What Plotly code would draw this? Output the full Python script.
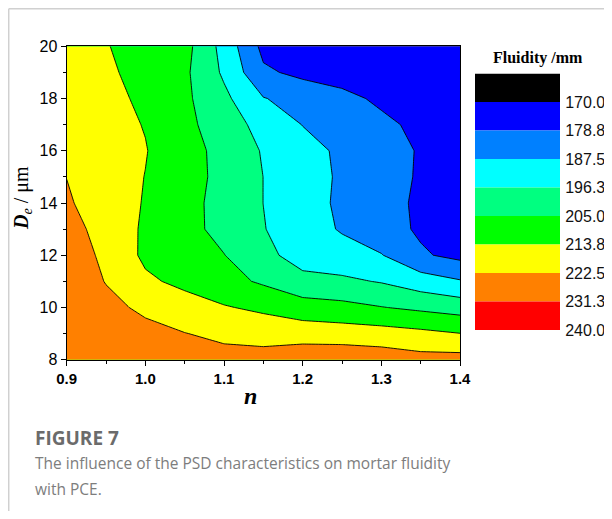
import plotly.graph_objects as go

# ---- data ----
n_values = [0.90, 0.95, 1.00, 1.05, 1.10, 1.15, 1.20, 1.25, 1.30, 1.35, 1.40]
de_values = [8, 9, 10, 11, 12, 13, 14, 15, 16, 17, 18, 19, 20]
fluidity = [
    [229.5, 227.5, 225.5, 224.0, 225.3, 225.5, 228.5, 228.7, 227.5, 225.5, 225.7],  # De 8
    [229.0, 226.5, 224.6, 222.7, 220.7, 219.5, 218.5, 218.0, 217.3, 215.8, 213.9],  # 9
    [228.3, 224.5, 221.1, 217.6, 214.4, 212.0, 209.0, 207.5, 205.3, 203.3, 201.3],  # 10
    [227.5, 222.2, 215.3, 211.6, 207.8, 203.8, 198.5, 197.8, 195.7, 191.6, 188.2],  # 11
    [226.5, 221.0, 212.0, 209.0, 205.2, 198.4, 193.0, 191.0, 187.9, 179.8, 176.5],  # 12
    [225.0, 220.0, 212.3, 207.7, 202.4, 196.6, 191.6, 186.7, 182.2, 177.6, 176.0],  # 13
    [223.5, 218.2, 213.2, 207.8, 202.1, 196.2, 191.0, 186.0, 181.7, 177.4, 176.0],  # 14
    [222.4, 217.5, 213.6, 208.4, 202.6, 196.2, 191.2, 186.3, 182.1, 177.9, 176.0],  # 15
    [221.2, 217.0, 214.1, 208.5, 202.2, 195.6, 190.6, 186.0, 182.0, 178.1, 176.0],  # 16
    [220.0, 216.5, 213.4, 207.3, 200.4, 193.4, 187.3, 183.9, 180.4, 177.0, 175.5],  # 17
    [218.8, 215.8, 212.4, 206.7, 198.2, 187.9, 184.2, 180.8, 177.4, 175.5, 174.5],  # 18
    [217.6, 215.0, 211.2, 206.6, 194.9, 180.1, 176.8, 175.5, 174.5, 173.5, 173.0],  # 19
    [216.5, 214.2, 210.0, 208.0, 193.2, 176.5, 173.5, 173.0, 172.5, 172.0, 171.5],  # 20
]
level_start = 170.0
level_step = 8.75
band_lows = [161.25, 170.0, 178.75, 187.5, 196.25, 205.0, 213.75, 222.5, 231.25]
level_ticks = [170.0, 178.75, 187.5, 196.25, 205.0, 213.75, 222.5, 231.25, 240.0]
level_labels = ["170.0", "178.8", "187.5", "196.3", "205.0", "213.8", "222.5", "231.3", "240.0"]
band_colors = ["#000000", "#0000FF", "#0080FF", "#00FFFF", "#00FF80",
               "#00FF00", "#FFFF00", "#FF8000", "#FF0000"]

# the page body adds an 8px margin on every side; keep the figure inside the window
OFF = 8
W, H = 612 - 2 * OFF, 519 - 2 * OFF
def px(x):
    return (x - OFF) / W
def py(y):
    return 1 - (y - OFF) / H

colorscale = [[i / 8, c] for i, c in enumerate(band_colors)]

fig = go.Figure()
fig.add_trace(go.Contour(
    x=n_values, y=de_values, z=fluidity,
    colorscale=colorscale,
    contours=dict(start=level_start, end=level_start + 7 * level_step, size=level_step,
                  coloring="fill", showlines=True),
    line=dict(color="black", width=0.9, smoothing=0),
    showscale=False, hoverinfo="skip",
    xaxis="x", yaxis="y",
))

# legend colour bar built from bars on its own axes
fig.add_trace(go.Bar(
    x=[0] * len(band_lows), y=[level_step] * len(band_lows), base=band_lows,
    width=1, marker=dict(color=band_colors, line=dict(width=0)),
    xaxis="x2", yaxis="y2", showlegend=False, hoverinfo="skip",
))

fig.update_layout(
    width=W, height=H,
    margin=dict(l=0, r=0, t=0, b=0, autoexpand=False),
    paper_bgcolor="white", plot_bgcolor="white",
    showlegend=False,
    xaxis=dict(
        domain=[px(66.7), px(460)], range=[0.9, 1.4],
        tick0=0.9, dtick=0.1, tickformat=".1f",
        tickfont=dict(family="Liberation Sans, Arial", size=15, color="black", weight="bold"),
        ticks="outside", ticklen=5, tickwidth=1.2, tickcolor="black",
        minor=dict(dtick=0.05, ticks="outside", ticklen=3, tickwidth=1.2, tickcolor="black"),
        showline=True, linecolor="black", linewidth=1.3, mirror=True,
        showgrid=False, zeroline=False, anchor="y",
    ),
    yaxis=dict(
        domain=[py(359.7), py(46.3)], range=[8, 20],
        tick0=8, dtick=2,
        tickfont=dict(family="Liberation Sans, Arial", size=16, color="black"),
        ticks="outside", ticklen=5, tickwidth=1.2, tickcolor="black",
        minor=dict(dtick=1, ticks="outside", ticklen=3, tickwidth=1.2, tickcolor="black"),
        showline=True, linecolor="black", linewidth=1.3, mirror=True,
        showgrid=False, zeroline=False, anchor="x",
    ),
    xaxis2=dict(
        domain=[px(475), px(560)], range=[-0.5, 0.5],
        visible=False, anchor="y2", fixedrange=True,
    ),
    yaxis2=dict(
        domain=[py(330), py(73.5)], range=[240, 161.25],
        side="right", anchor="x2",
        tickvals=level_ticks, ticktext=level_labels,
        tickfont=dict(family="Liberation Sans, Arial", size=16, color="#111111"),
        ticks="outside", ticklen=1, tickcolor="rgba(0,0,0,0)",
        showline=False, showgrid=False, zeroline=False,
    ),
    barmode="overlay",
)

def note(x, y, text, font, **kw):
    d = dict(x=px(x), y=py(y), xref="paper", yref="paper", text=text, font=font,
             showarrow=False, xanchor="center", yanchor="middle")
    d.update(kw)
    return d

serif = "Liberation Serif, Times New Roman"
annotations = [
    note(23, 198, "<b><i>D</i></b><i><sub>e</sub></i> / μm",
         dict(family=serif, size=20, color="black"), textangle=-90),
    note(250, 396, "<b><i>n</i></b>", dict(family=serif, size=24, color="black")),
    note(538, 58, "<b>Fluidity /mm</b>", dict(family=serif, size=16, color="black")),
    note(33, 438, "<b>FIGURE 7</b>", dict(family="Open Sans", size=19, color="#6b6b6b"),
         xanchor="left"),
    note(33, 463, "The influence of the PSD characteristics on mortar fluidity",
         dict(family="Open Sans", size=15.5, color="#7d7d7d"), xanchor="left"),
    note(33, 489, "with PCE.", dict(family="Open Sans", size=15.5, color="#7d7d7d"),
         xanchor="left"),
]
fig.update_layout(annotations=annotations)

fig.update_layout(shapes=[
    dict(type="line", xref="paper", yref="paper", x0=0.0012, x1=0.0012, y0=0, y1=0.9985,
         line=dict(color="#d0d0d0", width=1.5)),
    dict(type="line", xref="paper", yref="paper", x0=0.0012, x1=1, y0=0.9985, y1=0.9985,
         line=dict(color="#d0d0d0", width=1.5)),
])

fig.write_html("out.html")
